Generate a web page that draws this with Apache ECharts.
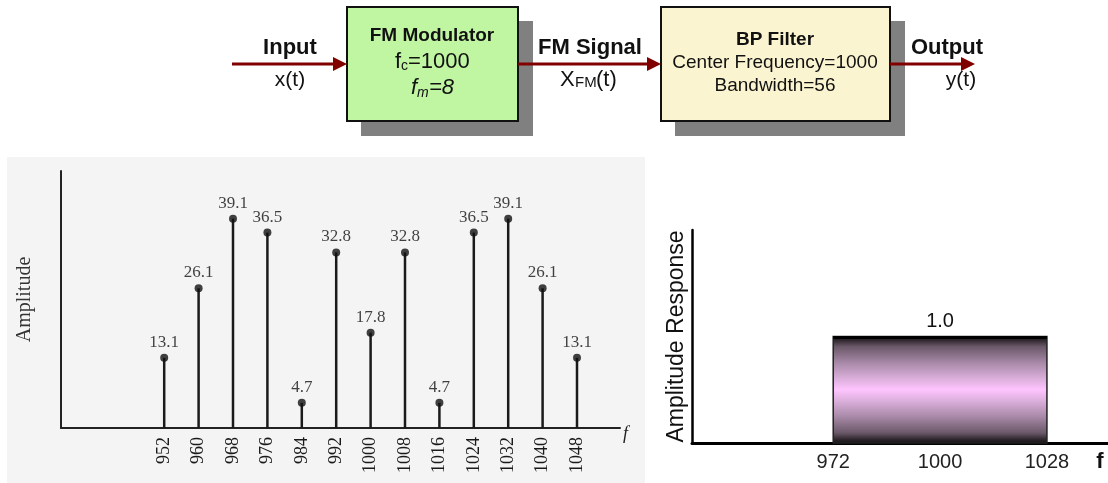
<!DOCTYPE html>
<html>
<head>
<meta charset="utf-8">
<script src="https://cdn.jsdelivr.net/npm/echarts@6/dist/echarts.min.js"></script>
<style>
  html, body { margin: 0; padding: 0; background: #fff; }
  #chart { width: 1108px; height: 483px; }
</style>
</head>
<body>
<div id="chart"></div>
<script>
// FM spectrum: carrier 1000, sidebands every 8
const freqs = [952, 960, 968, 976, 984, 992, 1000, 1008, 1016, 1024, 1032, 1040, 1048];
const amps = [13.1, 26.1, 39.1, 36.5, 4.7, 32.8, 17.8, 32.8, 4.7, 36.5, 39.1, 26.1, 13.1];

// band pass filter response
const passBand = [972, 1028];
const passGain = 1.0;
const filterTicks = [972, 1000, 1028];

const chart = echarts.init(document.getElementById('chart'));

const SANS = 'Liberation Sans, Arial, sans-serif';
const SERIF = 'Liberation Serif, Times New Roman, serif';
const ARROW = '#800000';

function txt(x, y, s, size, opts) {
  opts = opts || {};
  return {
    type: 'text', x: x, y: y, z: 10,
    style: {
      text: s,
      font: (opts.italic ? 'italic ' : '') + (opts.bold ? 'bold ' : '') + size + 'px ' + SANS,
      fill: '#111',
      align: opts.align || 'center', textAlign: opts.align || 'center',
      verticalAlign: 'middle', textVerticalAlign: 'middle'
    }
  };
}
function arrow(x1, x2, y) {
  return [
    { type: 'line', z: 5, shape: { x1: x1, y1: y, x2: x2 - 12, y2: y }, style: { stroke: ARROW, lineWidth: 3 } },
    { type: 'polygon', z: 5, shape: { points: [[x2 - 14, y - 7], [x2, y], [x2 - 14, y + 7]] }, style: { fill: ARROW } }
  ];
}

// block diagram, drawn as plain graphics
let diagram = [];
diagram.push({ type: 'rect', z: -10, shape: { x: 7, y: 157, width: 638, height: 326 }, style: { fill: '#f4f4f4' } });
diagram = diagram.concat(arrow(232, 347, 64), arrow(518, 661, 64), arrow(890, 975, 64));
// FM modulator box
diagram.push({ type: 'rect', z: 3, shape: { x: 361, y: 21, width: 172, height: 115 }, style: { fill: '#808080' } });
diagram.push({ type: 'rect', z: 4, shape: { x: 347, y: 7, width: 171, height: 114 }, style: { fill: '#c0f6a2', stroke: '#111', lineWidth: 2 } });
// BP filter box
diagram.push({ type: 'rect', z: 3, shape: { x: 675, y: 21, width: 230, height: 115 }, style: { fill: '#808080' } });
diagram.push({ type: 'rect', z: 4, shape: { x: 661, y: 7, width: 229, height: 114 }, style: { fill: '#fbf4d0', stroke: '#111', lineWidth: 2 } });

diagram.push(
  txt(290, 48, 'Input', 22, { bold: true }),
  txt(290, 80, 'x(t)', 21),
  txt(432, 36, 'FM Modulator', 19, { bold: true }),
  txt(395, 62, 'f', 22, { align: 'left' }),
  txt(401, 66, 'c', 14, { align: 'left' }),
  txt(408, 62, '=1000', 22, { align: 'left' }),
  txt(411, 88, 'f', 22, { align: 'left', italic: true }),
  txt(417, 93, 'm', 14, { align: 'left', italic: true }),
  txt(429, 88, '=8', 22, { align: 'left', italic: true }),
  txt(590, 48, 'FM Signal', 22, { bold: true }),
  txt(560, 80, 'X', 22, { align: 'left' }),
  txt(575, 83, 'FM', 15, { align: 'left' }),
  txt(596, 80, '(t)', 22, { align: 'left' }),
  txt(775, 40, 'BP Filter', 19, { bold: true }),
  txt(775, 63, 'Center Frequency=1000', 19),
  txt(775, 86, 'Bandwidth=56', 19),
  txt(947, 48, 'Output', 22, { bold: true }),
  txt(961, 80, 'y(t)', 21),
  txt(1100, 462, 'f', 22, { bold: true })
);

const option = {
  animation: false,
  backgroundColor: '#fff',
  graphic: diagram,
  grid: [
    { left: 61, top: 171, width: 559, height: 257 },
    { left: 692, top: 230, width: 416, height: 213 }
  ],
  xAxis: [
    {
      type: 'value', gridIndex: 0, min: 928, max: 1058, interval: 8,
      axisLine: { lineStyle: { color: '#222', width: 2 } },
      axisTick: { show: false },
      splitLine: { show: false },
      axisLabel: {
        rotate: 90, margin: 9,
        fontFamily: SERIF, fontSize: 18, color: '#1a1a1a',
        formatter: function (v) { return freqs.indexOf(v) >= 0 ? String(v) : ''; }
      },
      name: 'f', nameLocation: 'end', nameGap: 3,
      nameTextStyle: { fontFamily: SERIF, fontStyle: 'italic', fontSize: 18, color: '#222', verticalAlign: 'top', padding: [-3, 0, 0, 0] }
    },
    {
      type: 'value', gridIndex: 1, min: 935, max: 1044,
      axisLine: { lineStyle: { color: '#000', width: 3 } },
      axisTick: { show: false },
      splitLine: { show: false },
      axisLabel: {
        customValues: filterTicks, margin: 9, fontFamily: SANS, fontSize: 20, color: '#222',
        formatter: function (v) { return String(v); }
      }
    }
  ],
  yAxis: [
    {
      type: 'value', gridIndex: 0, min: 0, max: 48,
      axisLine: { show: true, lineStyle: { color: '#222', width: 2 } },
      axisTick: { show: false },
      axisLabel: { show: false },
      splitLine: { show: false },
      name: 'Amplitude', nameLocation: 'middle', nameGap: 26,
      nameTextStyle: { fontFamily: SERIF, fontSize: 20, color: '#333' }
    },
    {
      type: 'value', gridIndex: 1, min: 0, max: 2,
      axisLine: { show: true, lineStyle: { color: '#000', width: 2.5 } },
      axisTick: { show: false },
      axisLabel: { show: false },
      splitLine: { show: false },
      name: 'Amplitude Response', nameLocation: 'middle', nameGap: 4,
      nameTextStyle: { fontFamily: SANS, fontSize: 23, color: '#111' }
    }
  ],
  series: [
    {
      type: 'bar', xAxisIndex: 0, yAxisIndex: 0,
      data: freqs.map(function (f, i) { return [f, amps[i]]; }),
      barWidth: 2.5,
      itemStyle: { color: '#1a1a1a' }
    },
    {
      type: 'scatter', xAxisIndex: 0, yAxisIndex: 0,
      data: freqs.map(function (f, i) { return [f, amps[i]]; }),
      symbolSize: 8,
      itemStyle: { color: '#111' },
      label: {
        show: true, position: 'top', distance: 3,
        fontFamily: SERIF, fontSize: 17, color: '#111',
        formatter: function (p) { return p.value[1].toFixed(1); }
      }
    },
    {
      type: 'custom', xAxisIndex: 1, yAxisIndex: 1,
      data: [[passBand[0], passBand[1], passGain]],
      encode: { x: [0, 1], y: 2 },
      renderItem: function (params, api) {
        const p0 = api.coord([api.value(0), api.value(2)]);
        const p1 = api.coord([api.value(1), 0]);
        const w = p1[0] - p0[0], h = p1[1] - p0[1];
        const grad = new echarts.graphic.LinearGradient(0, 0, 0, 1, [
          { offset: 0, color: '#111' },
          { offset: 0.04, color: '#2e262d' },
          { offset: 0.1, color: '#6a5868' },
          { offset: 0.25, color: '#a889a8' },
          { offset: 0.4, color: '#dcb0dc' },
          { offset: 0.5, color: '#ffc4ff' },
          { offset: 0.6, color: '#dcb0dc' },
          { offset: 0.75, color: '#a889a8' },
          { offset: 0.9, color: '#6a5868' },
          { offset: 0.96, color: '#2e262d' },
          { offset: 1, color: '#111' }
        ]);
        return {
          type: 'group',
          children: [
            { type: 'rect', shape: { x: p0[0], y: p0[1], width: w, height: h }, style: { fill: grad, stroke: '#222', lineWidth: 1.5 } },
            { type: 'line', shape: { x1: p0[0], y1: p0[1] + 1, x2: p1[0], y2: p0[1] + 1 }, style: { stroke: '#000', lineWidth: 3 } },
            {
              type: 'text', x: (p0[0] + p1[0]) / 2, y: p0[1] - 15,
              style: {
                text: api.value(2).toFixed(1), font: '20px ' + SANS, fill: '#111',
                align: 'center', textAlign: 'center', verticalAlign: 'middle', textVerticalAlign: 'middle'
              }
            }
          ]
        };
      }
    }
  ]
};

chart.setOption(option);
</script>
</body>
</html>
